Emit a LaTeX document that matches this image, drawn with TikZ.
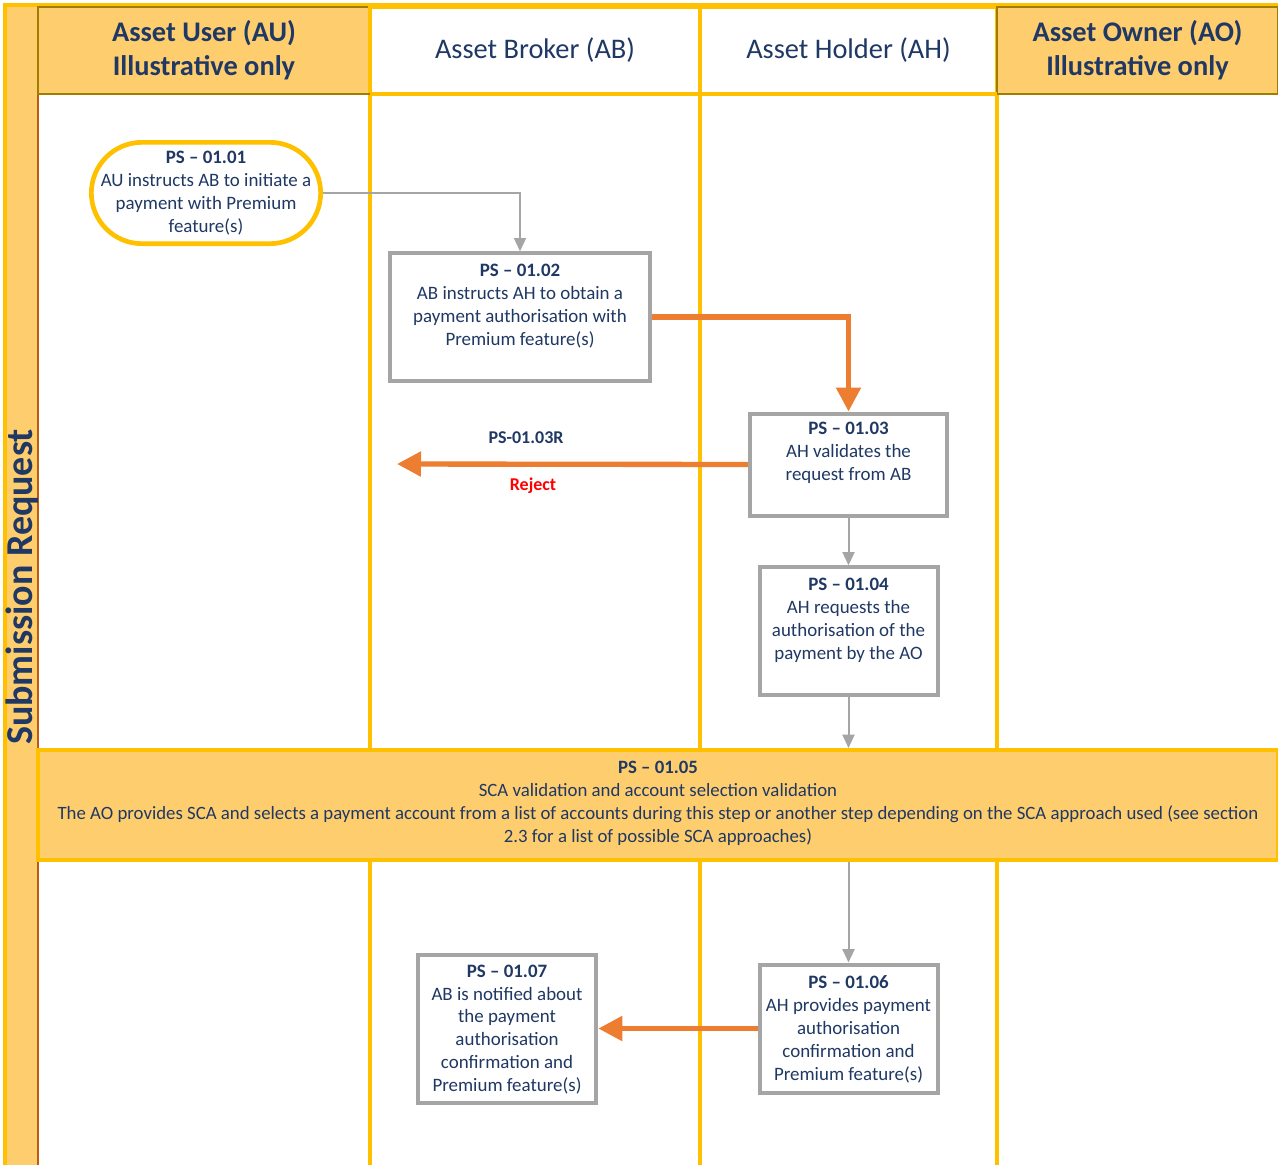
\documentclass[tikz,border=0pt]{standalone}
\usepackage{fontspec}
\setmainfont{Carlito}
\usetikzlibrary{arrows.meta}
\definecolor{dblue}{RGB}{31,56,100}
\definecolor{ylw}{RGB}{255,192,0}
\definecolor{lorange}{RGB}{254,205,110}
\definecolor{brn}{RGB}{160,124,0}
\definecolor{rbrn}{RGB}{190,90,20}
\definecolor{gry}{RGB}{165,165,165}
\definecolor{org}{RGB}{237,125,49}
\tikzset{
  hdrfill/.style={draw=brn,line width=1.5pt,fill=lorange,text=dblue,font=\fontsize{21.3}{25.5}\selectfont\bfseries,align=center},
  hdrwhite/.style={draw=ylw,line width=2.5pt,fill=white,text=dblue,font=\fontsize{21.3}{25.5}\selectfont,align=center},
  lane/.style={draw=ylw,line width=3pt},
  stepbox/.style={draw=gry,line width=3pt,fill=white,inner sep=0pt},
  steptext/.style={text=dblue,font=\fontsize{14.2}{17.2}\selectfont,align=center,inner sep=0pt},
  gline/.style={draw=gry,line width=1.5pt,-{Triangle[length=10pt,width=9pt]}},
  oline/.style={draw=org,line width=4pt,-{Triangle[length=18pt,width=18pt]}},
}
\begin{document}
\begin{tikzpicture}[x=0.75pt,y=-0.75pt]
\useasboundingbox (0,0) rectangle (1278,1165);
% left band
\fill[lorange] (5,5) rectangle (38,1165);
\draw[ylw,line width=2.5pt] (5,1165) -- (5,5) -- (1278,5);
\draw[rbrn,line width=1pt] (38,7) -- (38,1165);
\node[rotate=90,text=dblue,font=\fontsize{28.5}{32}\selectfont\bfseries] (title) at (22,587) {Submission Request};
% headers
\node[hdrfill,minimum width=249pt,minimum height=65.25pt] (hau) at (204,50.5) {Asset User (AU)\\Illustrative only};
\node[hdrwhite,minimum width=247.5pt,minimum height=65.25pt] (hab) at (535,50.5) {Asset Broker (AB)};
\node[hdrwhite,minimum width=222.75pt,minimum height=65.25pt] (hah) at (848.5,50.5) {Asset Holder (AH)};
\node[hdrfill,minimum width=210.75pt,minimum height=65.25pt] (hao) at (1137.5,50.5) {Asset Owner (AO)\\Illustrative only};
% lane lines
\draw[lane] (370,94) -- (370,1165);
\draw[lane] (700,94) -- (700,1165);
\draw[lane] (997,94) -- (997,1165);
\draw[brn,line width=1.5pt] (38,94) -- (370,94);
\draw[lane] (370,94) -- (997,94);
\draw[brn,line width=1.5pt] (997,94) -- (1278,94);
% band
\node[draw=ylw,line width=3pt,fill=lorange,minimum width=930pt,minimum height=82.5pt,inner sep=0pt] (b05) at (658,805) {};
\node[steptext,font=\fontsize{14.1}{17.25}\selectfont] (t05) at (658,803) {\textbf{PS – 01.05}\\SCA validation and account selection validation\\The AO provides SCA and selects a payment account from a list of accounts during this step or another step depending on the SCA approach used (see section\\2.3 for a list of possible SCA approaches)};
% steps
\node[draw=ylw,line width=3.5pt,fill=white,rounded corners=38pt,minimum width=172pt,minimum height=76pt,inner sep=0pt] (s01) at (206,193) {};
\node[steptext] (t01) at (206,193) {\textbf{PS – 01.01}\\AU instructs AB to initiate a\\payment with Premium\\feature(s)};
\node[stepbox,minimum width=195pt,minimum height=95.5pt] (s02) at (520,317) {};
\node[steptext] (t02) at (520,306) {\textbf{PS – 01.02}\\AB instructs AH to obtain a\\payment authorisation with\\Premium feature(s)};
\node[stepbox,minimum width=148pt,minimum height=76.5pt] (s03) at (848.5,464.5) {};
\node[steptext] (t03) at (848.5,453) {\textbf{PS – 01.03}\\AH validates the\\request from AB};
\node[stepbox,minimum width=133.5pt,minimum height=95.5pt] (s04) at (848.5,631) {};
\node[steptext] (t04) at (848.5,620) {\textbf{PS – 01.04}\\AH requests the\\authorisation of the\\payment by the AO};
\node[stepbox,minimum width=133.5pt,minimum height=96pt] (s06) at (848.5,1028.5) {};
\node[steptext] (t06) at (848.5,1029.5) {\textbf{PS – 01.06}\\AH provides payment\\authorisation\\confirmation and\\Premium feature(s)};
\node[stepbox,minimum width=134pt,minimum height=111pt] (s07) at (507,1028.5) {};
\node[steptext] (t07) at (507,1029.5) {\textbf{PS – 01.07}\\AB is notified about\\the payment\\authorisation\\confirmation and\\Premium feature(s)};
% reject
\coordinate (rej) at (397,464);
\node[text=dblue,font=\fontsize{13.5}{17}\selectfont\bfseries] (l03r) at (526,438) {PS-01.03R};
\node[text=red,font=\fontsize{13.5}{17}\selectfont\bfseries] (lrej) at (533,486) {Reject};
% connectors
\draw[gline] (s01.east) -| (s02.north);
\draw[oline] (s02.east) -| (s03.north);
\draw[oline] (s03.west) -- (rej);
\draw[gline] (s03.south) -- (s04.north);
\draw[gline] (s04.south) -- (s04.south |- b05.north);
\draw[gline] (b05.south -| s06.north) -- (s06.north);
\draw[oline] (s06.west) -- (s07.east);
\end{tikzpicture}
\end{document}
